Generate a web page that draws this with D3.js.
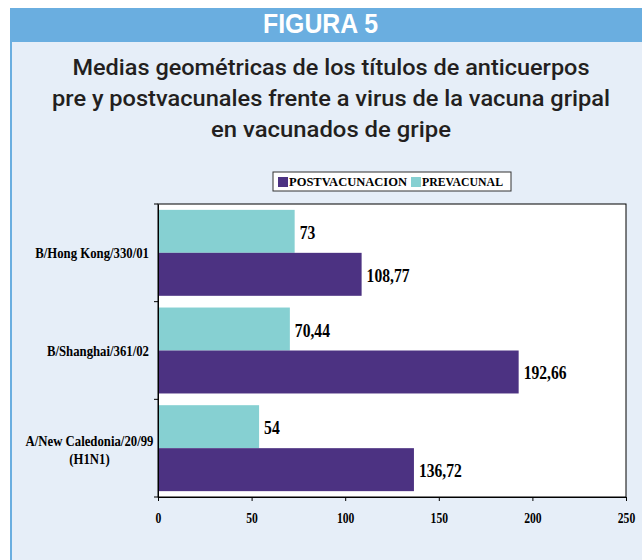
<!DOCTYPE html>
<html><head><meta charset="utf-8">
<script src="https://cdn.jsdelivr.net/npm/d3@7"></script>
<style>html,body{margin:0;padding:0;background:#fff;}</style>
</head><body>
<script>
const categories = ["B/Hong Kong/330/01", "B/Shanghai/361/02", "A/New Caledonia/20/99|(H1N1)"];
const seriesNames = ["PREVACUNAL", "POSTVACUNACION"];
const prevacunal = [73, 70.44, 54];
const postvacunacion = [108.77, 192.66, 136.72];
const valueLabelsPre = ["73", "70,44", "54"];
const valueLabelsPost = ["108,77", "192,66", "136,72"];
const xTicks = [0, 50, 100, 150, 200, 250];
const titleLines = ["Medias geométricas de los títulos de anticuerpos",
  "pre y postvacunales frente a virus de la vacuna gripal",
  "en vacunados de gripe"];
const colors = {PREVACUNAL: "#86d0d2", POSTVACUNACION: "#4c3282"};

(function () {
const W = 642, H = 560;
const SERIF = "'Liberation Serif', 'Times New Roman', serif";
const svg = d3.select("body").append("svg").attr("width", W).attr("height", H);

// condense a text element horizontally by a factor
function condense(sel, f) {
  sel.each(function () {
    const w = this.getComputedTextLength();
    d3.select(this).attr("textLength", w * f).attr("lengthAdjust", "spacingAndGlyphs");
  });
}

// panel
svg.append("rect").attr("x", 10).attr("y", 8).attr("width", W - 10).attr("height", H - 8).attr("fill", "#e6eef8");
svg.append("rect").attr("x", 10).attr("y", 8).attr("width", 2).attr("height", H - 8).attr("fill", "#6aaee0");
svg.append("rect").attr("x", 10).attr("y", 8).attr("width", W - 10).attr("height", 34).attr("fill", "#6aaee0");
svg.append("text").attr("x", 320.5).attr("y", 33).attr("text-anchor", "middle")
  .attr("font-family", "'Liberation Sans', Arial, sans-serif")
  .attr("font-weight", "bold").attr("font-size", 28).attr("fill", "#fff")
  .attr("textLength", 115).attr("lengthAdjust", "spacingAndGlyphs").text("FIGURA 5");

const titleW = [517, 558, 240];
titleLines.forEach((t, i) => {
  svg.append("text").attr("x", 331).attr("y", 75 + i * 31).attr("text-anchor", "middle")
    .attr("font-family", "Roboto, 'Liberation Sans', Arial, sans-serif").attr("font-weight", 500)
    .attr("font-size", 22.5).attr("fill", "#231f20")
    .attr("textLength", titleW[i]).attr("lengthAdjust", "spacingAndGlyphs").text(t);
});

// plot
const pl = 158, pr = 626, pt = 204, pb = 497;
const x = d3.scaleLinear().domain([0, 250]).range([pl, pr]);
const y = d3.scaleBand().domain(categories).range([pt, pb]).paddingInner(0.12).paddingOuter(0.06);
const sub = d3.scaleBand().domain(seriesNames).range([0, y.bandwidth()]);

svg.append("rect").attr("x", pl).attr("y", pt).attr("width", pr - pl).attr("height", pb - pt)
  .attr("fill", "#fff").attr("stroke", "#000").attr("stroke-width", 1);

const data = categories.map((c, i) => ({c, pre: prevacunal[i], post: postvacunacion[i], lpre: valueLabelsPre[i], lpost: valueLabelsPost[i]}));

const g = svg.append("g");
data.forEach(d => {
  [["PREVACUNAL", d.pre, d.lpre], ["POSTVACUNACION", d.post, d.lpost]].forEach(([s, v, l]) => {
    const yy = y(d.c) + sub(s);
    g.append("rect").attr("x", x(0)).attr("y", yy).attr("width", x(v) - x(0)).attr("height", sub.bandwidth())
      .attr("fill", colors[s]);
    const t = g.append("text").attr("x", x(v) + 5).attr("y", yy + sub.bandwidth() / 2 + 7.5)
      .attr("font-family", SERIF).attr("font-weight", "bold")
      .attr("font-size", 19.5).attr("fill", "#000").text(l);
    condense(t, 0.8);
  });
});

// axes
const xAxis = svg.append("g").attr("transform", `translate(0,${pb})`)
  .call(d3.axisBottom(x).tickValues(xTicks).tickSize(4).tickPadding(12).tickFormat(d3.format("d")));
xAxis.select(".domain").attr("stroke", "#000");
xAxis.selectAll("text").attr("font-family", SERIF)
  .attr("font-weight", "bold").attr("font-size", 14).attr("fill", "#000");
condense(xAxis.selectAll("text"), 0.83);

const yAxis = svg.append("g").attr("transform", `translate(${pl},0)`)
  .call(d3.axisLeft(y).tickSize(0).tickFormat(""));
yAxis.select(".domain").attr("stroke", "#000");
const bounds = categories.map((c, i) => y(c) - y.paddingInner() * y.step() / 2).concat([pb]);
bounds[0] = pt;
yAxis.selectAll(".bt").data(bounds).enter().append("line").attr("class", "bt")
  .attr("x1", -4).attr("x2", 0).attr("y1", d => d).attr("y2", d => d).attr("stroke", "#000");

// category labels
categories.forEach(c => {
  const lines = c.split("|");
  const cy = y(c) + y.bandwidth() / 2;
  if (lines.length === 1) {
    const t = svg.append("text").attr("text-anchor", "end").attr("x", 149).attr("y", cy + 5)
      .attr("font-family", SERIF).attr("font-weight", "bold").attr("font-size", 15).attr("fill", "#000").text(c);
    condense(t, 0.85);
  } else {
    lines.forEach((l, i) => {
      const t = svg.append("text").attr("text-anchor", "middle").attr("x", 89.5).attr("y", cy - 2.5 + i * 18)
        .attr("font-family", SERIF).attr("font-weight", "bold").attr("font-size", 15).attr("fill", "#000").text(l);
      condense(t, 0.85);
    });
  }
});

// legend
const lg = svg.append("g");
lg.append("rect").attr("x", 273).attr("y", 172).attr("width", 238).attr("height", 19)
  .attr("fill", "#fff").attr("stroke", "#333").attr("stroke-width", 1);
const legendItems = [["POSTVACUNACION", 278, 289, 118], ["PREVACUNAL", 411, 422, 81]];
legendItems.forEach(([s, sx, tx, tw]) => {
  lg.append("rect").attr("x", sx).attr("y", 177).attr("width", 10).attr("height", 10).attr("fill", colors[s]);
  lg.append("text").attr("x", tx).attr("y", 186)
    .attr("font-family", SERIF).attr("font-weight", "bold")
    .attr("font-size", 12.5).attr("fill", "#000")
    .attr("textLength", tw).attr("lengthAdjust", "spacingAndGlyphs").text(s);
});
})();
</script>
</body></html>
